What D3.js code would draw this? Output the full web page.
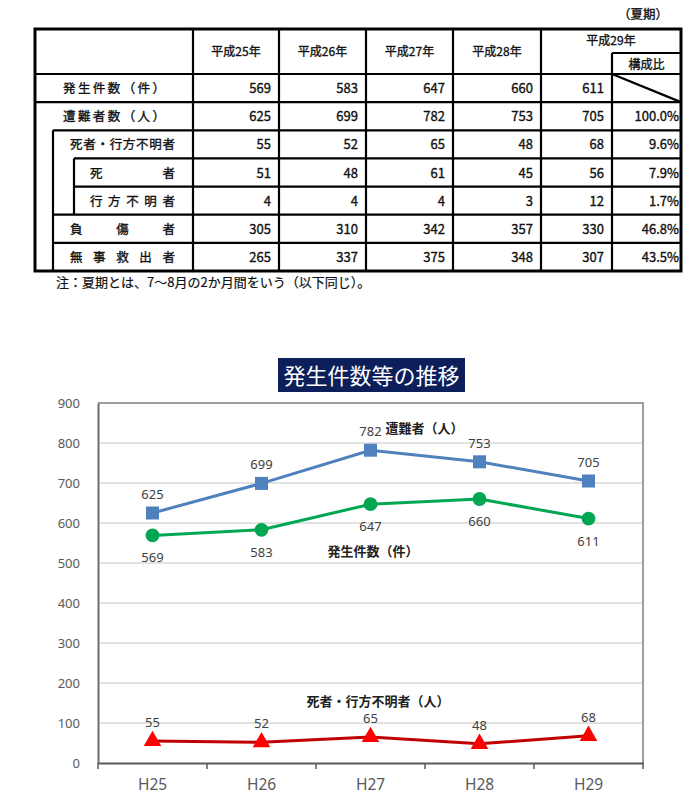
<!DOCTYPE html>
<html>
<head>
<meta charset="utf-8">
<script src="https://cdn.jsdelivr.net/npm/d3@7"></script>
<style>
  body { margin: 0; background: #fff; }
  svg { display: block; }
</style>
</head>
<body>
<div id="chart"></div>
<script>
// data
var years = ["H25", "H26", "H27", "H28", "H29"];
var yearHeaders = ["平成25年", "平成26年", "平成27年", "平成28年", "平成29年"];
var rowLabels = ["発生件数（件）", "遭難者数（人）", "死者・行方不明者", "死者", "行方不明者", "負傷者", "無事救出者"];
var incidents = [569, 583, 647, 660, 611];
var victims = [625, 699, 782, 753, 705];
var deadMissing = [55, 52, 65, 48, 68];
var dead = [51, 48, 61, 45, 56];
var missing = [4, 4, 4, 3, 12];
var injured = [305, 310, 342, 357, 330];
var rescued = [265, 337, 375, 348, 307];
var ratios = ["", "100.0%", "9.6%", "7.9%", "1.7%", "46.8%", "43.5%"];
var yTicks = [0, 100, 200, 300, 400, 500, 600, 700, 800, 900];

var tableRows = [incidents, victims, deadMissing, dead, missing, injured, rescued];

var svgWidth = 695;
var svgHeight = 803;

var svg = d3.select("#chart")
  .append("svg")
  .attr("width", svgWidth)
  .attr("height", svgHeight);

var jp = "'Noto Sans CJK JP', 'Noto Sans', sans-serif";

// ---------- table ----------
var tbl = { left: 35, right: 681, top: 29, head: 74, bottom: 271 };
var colEdges = [193, 279, 366, 453, 541, 612];
var rowY = d3.scaleBand()
  .domain(d3.range(rowLabels.length))
  .range([tbl.head, tbl.bottom]);

var tg = svg.append("g")
  .attr("font-family", jp)
  .attr("fill", "#111");

// text group, slightly heavier like the original print
var tt = tg.append("g")
  .attr("stroke", "#111")
  .attr("stroke-width", 0.35);

tt.append("text")
  .attr("x", 668).attr("y", 19)
  .attr("text-anchor", "end")
  .attr("font-size", 12.5)
  .text("（夏期）");

// row label layout: [x start, width]
var labelBox = [[63, 102], [63, 102], [70, 105], [90, 85], [90, 85], [70, 105], [70, 105]];

tt.selectAll("text.rowlab")
  .data(rowLabels)
  .enter()
  .append("text")
  .attr("class", "rowlab")
  .attr("x", (d, i) => labelBox[i][0])
  .attr("y", (d, i) => rowY(i) + rowY.bandwidth() / 2 + 5)
  .attr("font-size", 12.5)
  .attr("textLength", (d, i) => labelBox[i][1])
  .attr("lengthAdjust", "spacing")
  .text(d => d);

// header labels
tt.selectAll("text.yh")
  .data(yearHeaders.slice(0, 4))
  .enter()
  .append("text")
  .attr("class", "yh")
  .attr("x", (d, i) => (colEdges[i] + colEdges[i + 1]) / 2)
  .attr("y", 56)
  .attr("text-anchor", "middle")
  .attr("font-size", 12)
  .text(d => d);

tt.append("text")
  .attr("x", (colEdges[4] + tbl.right) / 2)
  .attr("y", 45)
  .attr("text-anchor", "middle")
  .attr("font-size", 12)
  .text(yearHeaders[4]);

tt.append("text")
  .attr("x", (colEdges[5] + tbl.right) / 2)
  .attr("y", 69)
  .attr("text-anchor", "middle")
  .attr("font-size", 12)
  .text("構成比");

// numbers
tableRows.forEach(function(vals, r) {
  tt.selectAll("text.num" + r)
    .data(vals)
    .enter()
    .append("text")
    .attr("x", (d, i) => colEdges[i + 1] - 8)
    .attr("y", rowY(r) + rowY.bandwidth() / 2 + 5)
    .attr("text-anchor", "end")
    .attr("font-size", 13)
    .text(d => d);
});

tt.selectAll("text.ratio")
  .data(ratios)
  .enter()
  .append("text")
  .attr("x", tbl.right - 2)
  .attr("y", (d, i) => rowY(i) + rowY.bandwidth() / 2 + 5)
  .attr("text-anchor", "end")
  .attr("font-size", 13)
  .text(d => d);

// table lines
var lines = tg.append("g").attr("stroke", "#000").attr("stroke-width", 2.2);
function ln(x1, y1, x2, y2) {
  lines.append("line").attr("x1", x1).attr("y1", y1).attr("x2", x2).attr("y2", y2);
}
ln(tbl.left, tbl.head, tbl.right, tbl.head);
ln(tbl.left, rowY(1), tbl.right, rowY(1));
ln(53, rowY(2), tbl.right, rowY(2));
ln(74, rowY(3), tbl.right, rowY(3));
ln(74, rowY(4), tbl.right, rowY(4));
ln(53, rowY(5), tbl.right, rowY(5));
ln(53, rowY(6), tbl.right, rowY(6));
ln(53, rowY(2), 53, tbl.bottom);
ln(74, rowY(3), 74, rowY(5));
colEdges.slice(0, 5).forEach(x => ln(x, tbl.top, x, tbl.bottom));
ln(colEdges[5], 53, colEdges[5], tbl.bottom);
ln(colEdges[5], 53, tbl.right, 53);
ln(colEdges[5], rowY(0), tbl.right, rowY(1));

lines.append("rect")
  .attr("x", tbl.left).attr("y", tbl.top)
  .attr("width", tbl.right - tbl.left)
  .attr("height", tbl.bottom - tbl.top)
  .attr("fill", "none")
  .attr("stroke-width", 3);

tt.append("text")
  .attr("x", 56).attr("y", 287)
  .attr("font-size", 13)
  .attr("stroke-width", 0.2)
  .text("注：夏期とは、7～8月の2か月間をいう（以下同じ）。");

// ---------- line chart ----------
var plot = { left: 98, right: 643, top: 403, bottom: 763 };

var xScale = d3.scaleBand()
  .domain(years)
  .range([plot.left, plot.right]);

var yScale = d3.scaleLinear()
  .domain([0, 900])
  .range([plot.bottom, plot.top]);

var cx = d => xScale(d) + xScale.bandwidth() / 2;

// title
var title = svg.append("g");
title.append("rect")
  .attr("x", 278).attr("y", 358)
  .attr("width", 187).attr("height", 34)
  .attr("fill", "#0d1f5a");
title.append("text")
  .attr("x", 371.5).attr("y", 384)
  .attr("text-anchor", "middle")
  .attr("font-family", jp)
  .attr("font-size", 22)
  .attr("fill", "#fff")
  .text("発生件数等の推移");

// grid
svg.append("g")
  .selectAll("line")
  .data(yTicks.filter(d => d > 0 && d < 900))
  .enter()
  .append("line")
  .attr("x1", plot.left).attr("x2", plot.right)
  .attr("y1", d => yScale(d)).attr("y2", d => yScale(d))
  .attr("stroke", "#d9d9d9")
  .attr("stroke-width", 1.5);

// plot border top / right
svg.append("path")
  .attr("d", `M${plot.left},${plot.top}H${plot.right}V${plot.bottom}`)
  .attr("fill", "none")
  .attr("stroke", "#7f7f7f")
  .attr("stroke-width", 1.5);

// y axis
var leftAxis = d3.axisLeft(yScale).tickValues(yTicks).tickSize(0).tickPadding(18);
var yAxis = svg.append("g")
  .attr("transform", `translate(${plot.left},0)`)
  .call(leftAxis);
yAxis.select(".domain").attr("stroke", "#6d6d6d").attr("stroke-width", 2);
yAxis.selectAll("text")
  .attr("font-family", "'Noto Sans', sans-serif")
  .attr("font-size", 13)
  .attr("fill", "#595959");

// x axis
var bottomAxis = d3.axisBottom(xScale).tickSize(0).tickPadding(16);
var xAxis = svg.append("g")
  .attr("transform", `translate(0,${plot.bottom})`)
  .call(bottomAxis);
xAxis.select(".domain").attr("stroke", "#595959").attr("stroke-width", 2);
xAxis.selectAll("text")
  .attr("font-family", "'Noto Sans', sans-serif")
  .attr("font-size", 15.5)
  .attr("fill", "#595959");
xAxis.selectAll("line.edge")
  .data(years.concat(["end"]))
  .enter()
  .append("line")
  .attr("class", "edge")
  .attr("x1", (d, i) => i < years.length ? xScale(d) : plot.right)
  .attr("x2", (d, i) => i < years.length ? xScale(d) : plot.right)
  .attr("y1", 0).attr("y2", 6)
  .attr("stroke", "#595959")
  .attr("stroke-width", 1.5);

var line = d3.line()
  .x((d, i) => cx(years[i]))
  .y(d => yScale(d));

function drawSeries(vals, color, lineColor, symbol, size, labelDy) {
  var g = svg.append("g");
  g.append("path")
    .datum(vals)
    .attr("d", line)
    .attr("fill", "none")
    .attr("stroke", lineColor)
    .attr("stroke-width", 3);
  g.selectAll("path.mk")
    .data(vals)
    .enter()
    .append("path")
    .attr("class", "mk")
    .attr("d", d3.symbol().type(symbol).size(size))
    .attr("transform", (d, i) => `translate(${cx(years[i])},${yScale(d)})`)
    .attr("fill", color);
  g.selectAll("text")
    .data(vals)
    .enter()
    .append("text")
    .attr("x", (d, i) => cx(years[i]))
    .attr("y", d => yScale(d) + labelDy)
    .attr("text-anchor", "middle")
    .attr("font-family", "'Noto Sans', sans-serif")
    .attr("font-size", 13)
    .attr("fill", "#404040")
    .text(d => d);
}

drawSeries(incidents, "#00a651", "#00a651", d3.symbolCircle, 150, 27);
drawSeries(victims, "#4f81bd", "#4f81bd", d3.symbolSquare, 169, -14);
drawSeries(deadMissing, "#ff0000", "#c00000", d3.symbolTriangle, 135, -14);

// series annotations
var ann = svg.append("g")
  .attr("font-family", jp)
  .attr("font-size", 13)
  .attr("font-weight", "bold")
  .attr("fill", "#222");
ann.append("text")
  .attr("x", cx("H27") + 15).attr("y", yScale(victims[2]) - 17)
  .text("遭難者（人）");
ann.append("text")
  .attr("x", cx("H27") - 43).attr("y", yScale(incidents[2]) + 52)
  .text("発生件数（件）");
ann.append("text")
  .attr("x", cx("H27") - 64).attr("y", yScale(deadMissing[2]) - 31)
  .text("死者・行方不明者（人）");
</script>
</body>
</html>
